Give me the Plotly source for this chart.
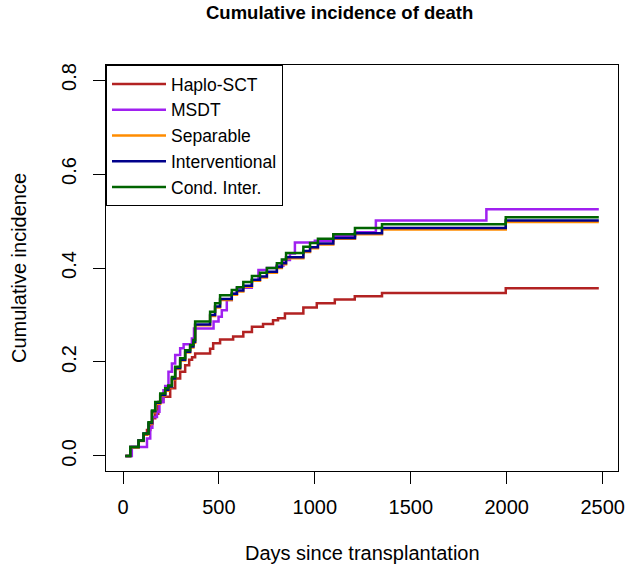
import plotly.graph_objects as go

# ---- data ----
series_names = ["Haplo-SCT", "MSDT", "Separable", "Interventional", "Cond. Inter."]
series_colors = ["#B22222", "#A020F0", "#FF8C00", "#00008B", "#006400"]

haplo_t = [12, 38, 81, 107, 125, 142, 155, 168, 184, 210, 246, 272, 298, 324, 345, 360, 376, 454, 470,
           506, 574, 627, 672, 730, 782, 808, 844, 940, 1010, 1104, 1208, 1350, 1995, 2480]
haplo_v = [0, 0.019, 0.033, 0.045, 0.055, 0.069, 0.080, 0.090, 0.115, 0.126, 0.144, 0.165, 0.179, 0.193,
           0.205, 0.210, 0.218, 0.228, 0.240, 0.248, 0.254, 0.264, 0.275, 0.281, 0.289, 0.293, 0.303,
           0.316, 0.325, 0.333, 0.340, 0.347, 0.357, 0.357]

msdt_t = [12, 46, 125, 142, 153, 177, 190, 211, 220, 237, 255, 272, 298, 316, 359, 370, 472, 498, 515,
          541, 567, 593, 671, 706, 750, 800, 836, 870, 896, 1000, 1096, 1210, 1318, 1894, 2480]
msdt_v = [0, 0.019, 0.037, 0.060, 0.083, 0.094, 0.115, 0.140, 0.149, 0.179, 0.197, 0.215, 0.229, 0.238,
          0.250, 0.271, 0.286, 0.296, 0.310, 0.332, 0.345, 0.358, 0.374, 0.396, 0.400, 0.405, 0.417,
          0.431, 0.454, 0.458, 0.468, 0.476, 0.501, 0.525, 0.525]

inter_t = [12, 38, 81, 107, 133, 151, 168, 194, 220, 236, 255, 272, 298, 324, 350, 367, 376, 454, 480,
           506, 567, 594, 627, 672, 714, 750, 802, 828, 850, 940, 975, 1016, 1096, 1209, 1350, 1995, 2480]
separable_v = [0, 0.018, 0.032, 0.046, 0.068, 0.093, 0.111, 0.128, 0.139, 0.146, 0.163, 0.185, 0.203,
               0.220, 0.231, 0.241, 0.278, 0.298, 0.316, 0.332, 0.343, 0.350, 0.360, 0.373, 0.380,
               0.390, 0.400, 0.408, 0.421, 0.434, 0.442, 0.450, 0.462, 0.472, 0.482, 0.498, 0.498]
interventional_v = [0, 0.019, 0.033, 0.048, 0.070, 0.095, 0.113, 0.130, 0.141, 0.148, 0.165, 0.187,
                    0.205, 0.222, 0.233, 0.243, 0.280, 0.300, 0.318, 0.334, 0.345, 0.352, 0.362, 0.375,
                    0.382, 0.392, 0.402, 0.410, 0.423, 0.436, 0.444, 0.452, 0.464, 0.474, 0.485, 0.501,
                    0.501]
cond_v = [0, 0.019, 0.033, 0.048, 0.072, 0.097, 0.115, 0.133, 0.144, 0.150, 0.168, 0.190, 0.208, 0.225,
          0.236, 0.247, 0.286, 0.307, 0.325, 0.342, 0.353, 0.359, 0.370, 0.383, 0.390, 0.400, 0.410,
          0.418, 0.432, 0.445, 0.453, 0.462, 0.472, 0.485, 0.493, 0.508, 0.508]

x_ticks = [0, 500, 1000, 1500, 2000, 2500]
y_ticks = [0.0, 0.2, 0.4, 0.6, 0.8]
y_ticktext = ["0.0", "0.2", "0.4", "0.6", "0.8"]

title_text = "Cumulative incidence of death"
x_title = "Days since transplantation"
y_title = "Cumulative incidence"

FONT = "Liberation Sans, Arial, sans-serif"

xs = [haplo_t, msdt_t, inter_t, inter_t, inter_t]
ys = [haplo_v, msdt_v, separable_v, interventional_v, cond_v]

fig = go.Figure()
for name, col, x, y in zip(series_names, series_colors, xs, ys):
    fig.add_trace(go.Scatter(x=x, y=y, mode="lines", name=name,
                             line=dict(color=col, width=2.5, shape="hv")))

fig.update_layout(
    width=626, height=573,
    margin=dict(l=106, r=8, t=65, b=102, autoexpand=False),
    paper_bgcolor="white", plot_bgcolor="white",
    font=dict(family=FONT, size=20, color="black"),
    showlegend=True,
    legend=dict(x=0, y=1, xanchor="left", yanchor="top", xref="paper", yref="paper",
                bgcolor="white", bordercolor="black", borderwidth=1,
                font=dict(size=17.5), itemwidth=54, tracegroupgap=0),
)
fig.update_xaxes(range=[-88.6, 2580], tickvals=x_ticks, ticks="outside", ticklen=12,
                 tickwidth=1, tickcolor="black", showline=True, mirror=True, linecolor="black",
                 linewidth=1, showgrid=False, zeroline=False, ticklabelstandoff=6,
                 automargin=False, tickfont=dict(size=20))
fig.update_yaxes(range=[-0.032, 0.832], tickvals=y_ticks, ticktext=y_ticktext, ticks="outside",
                 ticklen=12, tickwidth=1, tickcolor="black", showline=True, mirror=True,
                 linecolor="black", linewidth=1, showgrid=False, zeroline=False, tickangle=-90,
                 ticklabelstandoff=9, automargin=False, tickfont=dict(size=20))

fig.add_annotation(text="<b>" + title_text + "</b>", x=0.457, y=1, xref="paper", yref="paper",
                   yshift=53, showarrow=False, font=dict(size=18.5),
                   xanchor="center", yanchor="middle")
fig.add_annotation(text=x_title, x=0.5, y=0, xref="paper", yref="paper", yshift=-82,
                   showarrow=False, font=dict(size=20), xanchor="center", yanchor="middle")
fig.add_annotation(text=y_title, x=0, y=0.5, xref="paper", yref="paper", xshift=-87,
                   showarrow=False, font=dict(size=20), textangle=-90,
                   xanchor="center", yanchor="middle")

fig.write_html("out.html", config={"displayModeBar": False},
               post_script="document.body.style.margin='0';")
